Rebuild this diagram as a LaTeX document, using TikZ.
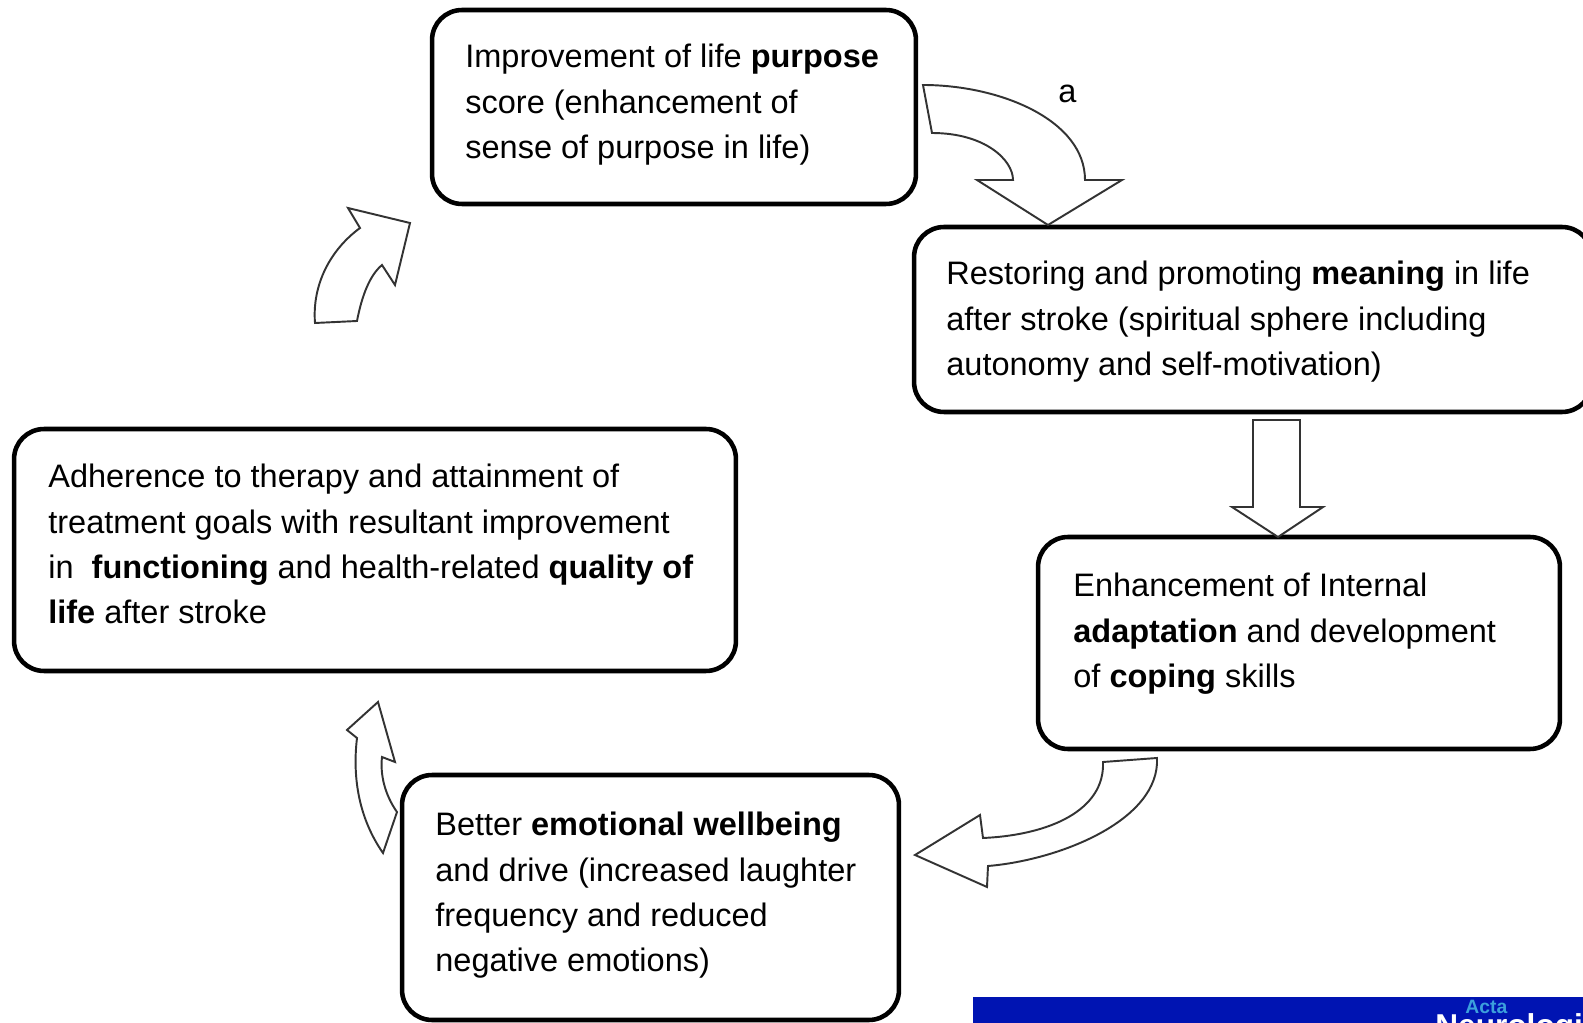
\documentclass[tikz,border=0pt]{standalone}
\usepackage{fontspec}
\setmainfont{Liberation Sans}
\begin{document}
\begin{tikzpicture}[x=0.02cm, y=-0.02cm,
    box/.style={draw, line width=2.6pt, rounded corners=0.6cm, inner sep=0pt},
    txt/.style={anchor=north west, align=left, inner sep=0pt, font=\fontsize{18.5}{25.8}\selectfont},
    blockarrow/.style={draw=black!80, line width=1.1pt, fill=white, line join=miter}]
        \clip (0,0) rectangle (1583,1023);
        \fill[white] (0,0) rectangle (1583,1023);

        \node[box, minimum width=9.68cm, minimum height=3.88cm] (purpose) at (674,107) {};
        \node[box, minimum width=13.56cm, minimum height=3.70cm] (meaning) at (1253,319.5) {};
        \node[box, minimum width=10.44cm, minimum height=4.24cm] (coping) at (1299,643) {};
        \node[box, minimum width=9.94cm, minimum height=4.90cm] (emotion) at (650.5,897.5) {};
        \node[box, minimum width=14.44cm, minimum height=4.84cm] (adherence) at (375,550) {};

        \node[txt] (purposetext) at (465,44) {Improvement of life \textbf{purpose}\\score (enhancement of\\sense of purpose in life)};
        \node[txt] (meaningtext) at (946,261) {Restoring and promoting \textbf{meaning} in life\\after stroke (spiritual sphere including\\autonomy and self-motivation)};
        \node[txt] (copingtext) at (1073,573) {Enhancement of Internal\\\textbf{adaptation} and development\\of \textbf{coping} skills};
        \node[txt] (emotiontext) at (435,812) {Better \textbf{emotional wellbeing}\\and drive (increased laughter\\frequency and reduced\\negative emotions)};
        \node[txt] (adherencetext) at (48,464) {Adherence to therapy and attainment of\\treatment goals with resultant improvement\\in \ \textbf{functioning} and health-related \textbf{quality of}\\\textbf{life} after stroke};

        \path[blockarrow] (923,85) -- (932,133) .. controls (985,133) and (1013,160) .. (1013,180)
            -- (977,180) -- (1048,225) -- (1122,180) -- (1085,180)
            .. controls (1085,120) and (1000,85) .. (923,85) -- cycle;
        \node[txt] (a) at (1058,85) {a};

        \path[blockarrow] (1253,420) -- (1300,420) -- (1300,507) -- (1323,507) -- (1278,537)
            -- (1232,507) -- (1253,507) -- cycle;

        \path[blockarrow] (1103,762) -- (1157,758) .. controls (1160,820) and (1060,860) .. (988,866)
            -- (987,887) -- (915,855) -- (980,815) -- (983,838)
            .. controls (1050,835) and (1105,810) .. (1103,762) -- cycle;

        \path[blockarrow] (378,702) -- (347,730) -- (357,738) .. controls (352,780) and (360,820) .. (383,853)
            -- (397,812) .. controls (385,795) and (380,775) .. (382,757) -- (395,762) -- cycle;

        \path[blockarrow] (315,323) -- (357,321) .. controls (362,295) and (370,275) .. (382,265)
            -- (395,285) -- (410,223) -- (348,208) -- (360,228)
            .. controls (330,250) and (312,285) .. (315,323) -- cycle;

        \fill[fill={rgb,255:red,0;green,20;blue,178}] (973,997) rectangle (1583,1030);
        \node[anchor=north west, inner sep=0pt, text={rgb,255:red,60;green,160;blue,220}, font=\fontsize{11}{11}\selectfont\bfseries] (acta) at (1465,1000) {Acta};
        \node[anchor=north west, inner sep=0pt, text=white, font=\fontsize{18}{18}\selectfont\bfseries] (journal) at (1435,1013) {Neurologica};
    \end{tikzpicture}
\end{document}
